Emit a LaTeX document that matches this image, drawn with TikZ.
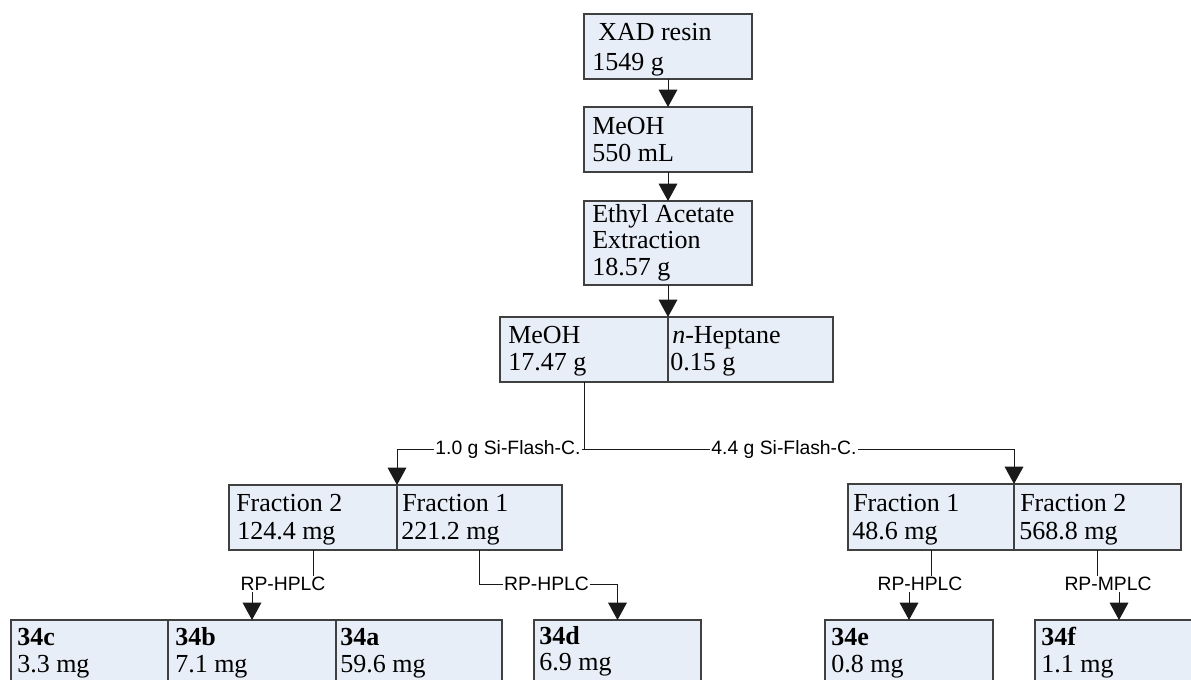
\documentclass[tikz,border=0pt]{standalone}
\usepackage{fontspec}
\setmainfont{Liberation Serif}
\newfontfamily\arialfont{Liberation Sans}
\usetikzlibrary{arrows.meta}
\definecolor{boxfill}{HTML}{E8EEF7}
\definecolor{boxline}{HTML}{404040}
\definecolor{linecol}{HTML}{1A1A1A}
\tikzset{
  box/.style={draw=boxline, fill=boxfill, line width=0.9pt, anchor=north west, inner sep=0pt, outer sep=0pt, minimum height=48.75pt},
  txt/.style={anchor=base west, inner sep=0pt, font=\fontsize{19.5}{22}\selectfont},
  lbl/.style={fill=white, inner sep=1pt, font=\arialfont\fontsize{14.5}{16}\selectfont},
  conn/.style={draw=linecol, line width=0.75pt},
  arr/.style={conn, -{Triangle[length=13pt,width=14pt]}},
}
\begin{document}
\begin{tikzpicture}[x=0.75pt,y=-0.75pt]
\useasboundingbox (0,0) rectangle (1191,679);
\clip (0,0) rectangle (1191,679);
\fill[white] (0,0) rectangle (1191,679);
% boxes
\node[box, minimum width=126pt] (xad) at (584,14) {};
\node[box, minimum width=126pt] (meoha) at (584,107) {};
\node[box, minimum width=126pt, minimum height=63pt] (ea) at (584,201) {};
\node[box, minimum width=126pt] (meohb) at (500,317) {};
\node[box, minimum width=123.75pt] (hep) at (668,317) {};
\node[box, minimum width=126pt] (fltwo) at (229,485) {};
\node[box, minimum width=123.75pt] (flone) at (397,485) {};
\node[box, minimum width=124.5pt, minimum height=49.5pt] (frone) at (848,484) {};
\node[box, minimum width=125.25pt, minimum height=49.5pt] (frtwo) at (1014,484) {};
\node[box, minimum width=117.75pt] (c34) at (11,620) {};
\node[box, minimum width=126pt] (b34) at (168,620) {};
\node[box, minimum width=124.5pt] (a34) at (336,620) {};
\node[box, minimum width=125.25pt] (d34) at (534,620) {};
\node[box, minimum width=126pt] (e34) at (825,620) {};
\node[box, minimum width=126pt] (f34) at (1035,620) {};
% texts
\node[txt] (t1) at (598,40.5) {XAD resin};
\node[txt] (t2) at (592,70) {1549 g};
\node[txt] (t3) at (592,134) {MeOH};
\node[txt] (t4) at (592,161) {550 mL};
\node[txt] (t5) at (592,222) {Ethyl Acetate};
\node[txt] (t6) at (592,248.5) {Extraction};
\node[txt] (t7) at (592,275) {18.57 g};
\node[txt] (t8) at (508,343) {MeOH};
\node[txt] (t9) at (508,370) {17.47 g};
\node[txt] (t10) at (672,343) {\textit{n}-Heptane};
\node[txt] (t11) at (670,370) {0.15 g};
\node[txt] (t12) at (236,511) {Fraction 2};
\node[txt] (t13) at (237,539) {124.4 mg};
\node[txt] (t14) at (402,511) {Fraction 1};
\node[txt] (t15) at (401,539) {221.2 mg};
\node[txt] (t16) at (853,511) {Fraction 1};
\node[txt] (t17) at (852,539) {48.6 mg};
\node[txt] (t18) at (1020,511) {Fraction 2};
\node[txt] (t19) at (1019,539) {568.8 mg};
\node[txt] (t20) at (17,645.5) {\textbf{34c}};
\node[txt] (t21) at (17,672) {3.3 mg};
\node[txt] (t22) at (175,645.5) {\textbf{34b}};
\node[txt] (t23) at (175,672) {7.1 mg};
\node[txt] (t24) at (340,645.5) {\textbf{34a}};
\node[txt] (t25) at (340,672) {59.6 mg};
\node[txt] (t26) at (539,644.5) {\textbf{34d}};
\node[txt] (t27) at (539,670) {6.9 mg};
\node[txt] (t28) at (831,645.5) {\textbf{34e}};
\node[txt] (t29) at (831,672) {0.8 mg};
\node[txt] (t30) at (1041,645.5) {\textbf{34f}};
\node[txt] (t31) at (1041,672) {1.1 mg};
% connectors
\coordinate (j) at (584,449);
\draw[arr] (xad.south) -- (meoha.north);
\draw[arr] (meoha.south) -- (ea.north);
\draw[arr] (ea.south) -- (hep.north west);
\draw[conn] (meohb.south) -- (j);
\draw[arr] (j) -| (flone.north west);
\draw[arr] (j) -| (frtwo.north west);
\draw[arr] (fltwo.south) -- ++(0,34) -| (b34.north);
\draw[arr] (flone.south) -- ++(0,34) -| (d34.north);
\draw[arr] (frone.south) -- ++(0,34) -| (e34.north);
\draw[arr] (frtwo.south) -- ++(0,34) -| (f34.north);
% labels
\node[lbl] (l1) at (508,449) {1.0 g Si-Flash-C.};
\node[lbl] (l2) at (784,449) {4.4 g Si-Flash-C.};
\node[lbl] (l3) at (283,584) {RP-HPLC};
\node[lbl] (l4) at (546.5,584) {RP-HPLC};
\node[lbl] (l5) at (920,584) {RP-HPLC};
\node[lbl] (l6) at (1108,584) {RP-MPLC};
\end{tikzpicture}
\end{document}
